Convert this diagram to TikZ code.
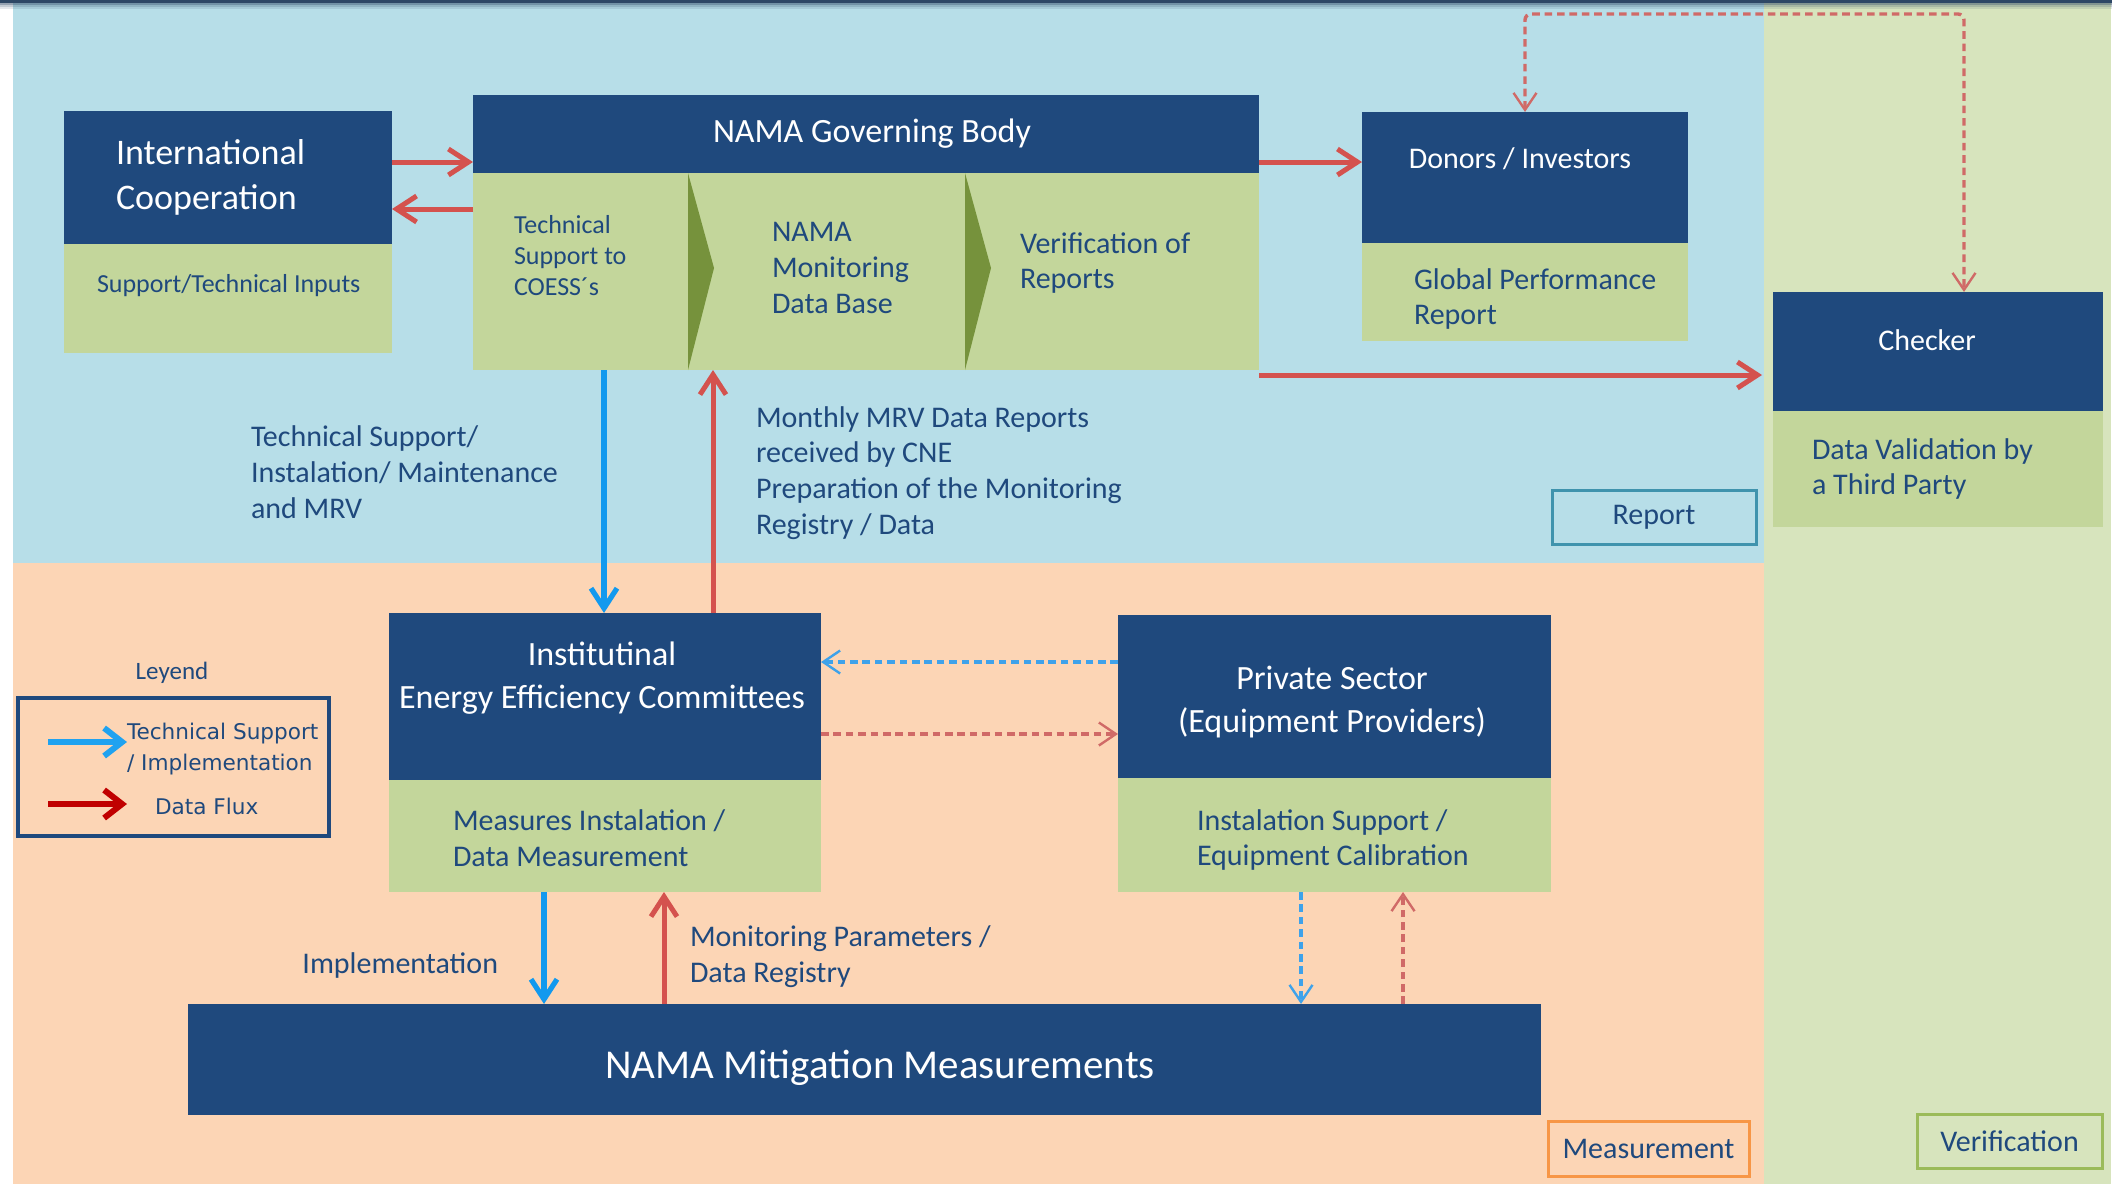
\documentclass[tikz,border=0pt]{standalone}
\usepackage{fontspec}
\setmainfont{Carlito}
\newfontfamily\legendfont{DejaVu Sans}
\usetikzlibrary{arrows.meta,fit}

% palette
\definecolor{navy}{HTML}{1F497D}
\definecolor{leaf}{HTML}{C3D69B}
\definecolor{olive}{HTML}{76923C}
\definecolor{skyzone}{HTML}{B7DEE8}
\definecolor{peachzone}{HTML}{FCD5B5}
\definecolor{greenzone}{HTML}{D7E4BD}
\definecolor{flux}{HTML}{D4524E}
\definecolor{support}{HTML}{1299EE}
\definecolor{fluxdash}{HTML}{D06A67}
\definecolor{supportdash}{HTML}{3EA2EA}
\definecolor{legendred}{HTML}{C00000}
\definecolor{legendblue}{HTML}{1FA2F0}
\definecolor{reportedge}{HTML}{3F93AD}
\definecolor{measedge}{HTML}{F79646}
\definecolor{verifedge}{HTML}{9BBB59}
\definecolor{topline}{HTML}{2E4866}

% type sizes
\newcommand\fsHead{\fontsize{18pt}{22.5pt}\selectfont}
\newcommand\fsTitle{\fontsize{17pt}{21.5pt}\selectfont}
\newcommand\fsBig{\fontsize{20.5pt}{24pt}\selectfont}
\newcommand\fsBody{\fontsize{15pt}{17.9pt}\selectfont}
\newcommand\fsSmall{\fontsize{13pt}{15.5pt}\selectfont}
\newcommand\fsLegend{\legendfont\fontsize{10.8pt}{15.5pt}\selectfont}

\begin{document}
\begin{tikzpicture}[x=0.5pt,y=-0.5pt,
  panel/.style={fill=navy, draw=none, inner sep=0pt, outer sep=0pt},
  leafpanel/.style={fill=leaf, draw=none, inner sep=0pt, outer sep=0pt},
  whitetxt/.style={text=white, inner sep=0pt, outer sep=0pt},
  navytxt/.style={text=navy, inner sep=0pt, outer sep=0pt, align=left, anchor=west},
  tag/.style={inner sep=0pt, outer sep=0pt, text=navy, font=\fsBody, line width=1.5pt},
  fluxarrow/.style={draw=flux, line width=2.5pt, -{Straight Barb[length=10pt,width=13pt]}},
  supportarrow/.style={draw=support, line width=2.6pt, -{Straight Barb[length=10pt,width=13pt]}},
  fluxdashed/.style={draw=fluxdash, line width=1.7pt, dash pattern=on 3.8pt off 2.4pt,
    -{Straight Barb[length=8.5pt,width=11.5pt,line width=1.2pt]}},
  supportdashed/.style={draw=supportdash, line width=1.7pt, dash pattern=on 3.8pt off 2.4pt,
    -{Straight Barb[length=8.5pt,width=11.5pt,line width=1.2pt]}},
  legendarrow/.style={line width=3pt, -{Straight Barb[length=9pt,width=14pt]}}
]
\useasboundingbox (0,0) rectangle (2128,1184);

% ---------- zones ----------
\fill[white] (0,0) rectangle (2128,1184);
\fill[skyzone] (13,0) rectangle (1764,563);
\fill[peachzone] (13,563) rectangle (1764,1184);
\fill[greenzone] (1764,0) rectangle (2111,1184);
\fill[topline] (0,0) rectangle (2112,3);
\fill[topline, opacity=.5] (0,3) rectangle (2112,5);
\fill[topline, opacity=.28] (0,5) rectangle (2112,7);
\fill[topline, opacity=.12] (0,7) rectangle (2112,9);

% ---------- International Cooperation ----------
\node[panel, fit={(64,111) (392,244)}] (ic) {};
\node[leafpanel, fit={(64,244) (392,353)}] (icleaf) {};
\node[whitetxt, align=left, anchor=west, font=\fsHead] (ictxt) at (116,177) {International\\Cooperation};
\node[navytxt, font=\fsSmall] (icsub) at (97,286) {Support/Technical Inputs};

% ---------- NAMA Governing Body ----------
\node[panel, fit={(473,95) (1259,173)}] (gov) {};
\node[leafpanel, fit={(473,173) (1259,370)}] (govleaf) {};
\node[whitetxt, font=\fsTitle] (govtxt) at (872,134) {NAMA Governing Body};
\fill[olive] (688,173) -- (714,268) -- (688,370) -- cycle;
\fill[olive] (965,173) -- (991,268) -- (965,370) -- cycle;
\node[navytxt, font=\fsSmall] (govstep1) at (514,256) {Technical\\Support to\\COESS´s};
\node[navytxt, font=\fsBody] (govstep2) at (772,268) {NAMA\\Monitoring\\Data Base};
\node[navytxt, font=\fsBody] (govstep3) at (1020,263) {Verification of\\Reports};

% ---------- Donors / Investors ----------
\node[panel, fit={(1362,112) (1688,243)}] (donors) {};
\node[leafpanel, fit={(1362,243) (1688,341)}] (donorsleaf) {};
\node[whitetxt, font=\fsBody] (donorstxt) at (1520,159) {Donors / Investors};
\node[navytxt, font=\fsBody] (donorssub) at (1414,299) {Global Performance\\Report};

% ---------- Checker ----------
\node[panel, fit={(1773,292) (2103,411)}] (checker) {};
\node[leafpanel, fit={(1773,411) (2103,527)}] (checkerleaf) {};
\node[whitetxt, font=\fsBody] (checkertxt) at (1927,340) {Checker};
\node[navytxt, font=\fsBody] (checkersub) at (1812,469) {Data Validation by\\a Third Party};

% ---------- Institutional committees ----------
\node[panel, fit={(389,613) (821,780)}] (ieec) {};
\node[leafpanel, fit={(389,780) (821,892)}] (ieecleaf) {};
\node[whitetxt, align=center, font=\fsTitle] (ieectxt) at (602,678) {Institutinal\\Energy Efficiency Committees};
\node[navytxt, font=\fsBody] (ieecsub) at (453,838) {Measures Instalation /\\Data Measurement};

% ---------- Private sector ----------
\node[panel, fit={(1118,615) (1551,778)}] (ps) {};
\node[leafpanel, fit={(1118,778) (1551,892)}] (psleaf) {};
\node[whitetxt, align=center, font=\fsTitle] (pstxt) at (1332,702) {Private Sector\\(Equipment Providers)};
\node[navytxt, font=\fsBody] (pssub) at (1197,840) {Instalation Support /\\Equipment Calibration};

% ---------- Mitigation measurements ----------
\node[panel, fit={(188,1004) (1541,1115)}] (mit) {};
\node[whitetxt, font=\fsBig] (mittxt) at (880,1068) {NAMA Mitigation Measurements};

% ---------- zone tags ----------
\node[tag, draw=reportedge, fill=skyzone, minimum width=102pt, minimum height=27pt] (report) at (1654,517) {Report};
\node[tag, draw=measedge, fill=peachzone, minimum width=100.5pt, minimum height=27.5pt] (measure) at (1648.5,1148.5) {Measurement};
\node[tag, draw=verifedge, fill=greenzone, minimum width=92.5pt, minimum height=27pt] (verif) at (2009.5,1141) {Verification};

% ---------- connector labels ----------
\node[navytxt, font=\fsBody] (lbltech) at (251,472) {Technical Support/\\Instalation/ Maintenance\\and MRV};
\node[navytxt, font=\fsBody] (lblmrv) at (756,473) {Monthly MRV Data Reports\\received by CNE\\Preparation of the Monitoring\\Registry / Data};
\node[navytxt, font=\fsBody, anchor=east] (lblimpl) at (498,965) {Implementation};
\node[navytxt, font=\fsBody] (lblparam) at (690,957) {Monitoring Parameters /\\Data Registry};

% ---------- solid connectors ----------
\draw[fluxarrow] (ic.east |- 0,162) -- (gov.west |- 0,162);
\draw[fluxarrow] (govleaf.west |- 0,209) -- (ic.east |- 0,209);
\draw[fluxarrow] (gov.east |- 0,162) -- (donors.west |- 0,162);
\draw[fluxarrow, shorten >=5.5pt] (govleaf.east |- 0,375) -- (checker.west |- 0,375);
\draw[supportarrow] (govleaf.south -| 604,0) -- (ieec.north -| 604,0);
\draw[fluxarrow] (ieec.north -| 713,0) -- (govleaf.south -| 713,0);
\draw[supportarrow] (ieecleaf.south -| 544,0) -- (mit.north -| 544,0);
\draw[fluxarrow] (mit.north -| 664,0) -- (ieecleaf.south -| 664,0);

% ---------- dashed connectors ----------
\draw[supportdashed] (ps.west |- 0,662) -- (ieec.east |- 0,662);
\draw[fluxdashed] (ieec.east |- 0,734) -- (ps.west |- 0,734);
\draw[supportdashed] (psleaf.south -| 1301,0) -- (mit.north -| 1301,0);
\draw[fluxdashed] (mit.north -| 1403,0) -- (psleaf.south -| 1403,0);
\draw[fluxdashed, {Straight Barb[length=8.5pt,width=11.5pt,line width=1.2pt]}-{Straight Barb[length=8.5pt,width=11.5pt,line width=1.2pt]}, rounded corners=3pt]
  (donors.north) |- (1964,14) -- (checker.north -| 1964,0);

% ---------- legend ----------
\node[text=navy, inner sep=0pt, font=\fontsize{12.5pt}{15pt}\selectfont] (legendtitle) at (172,673) {Leyend};
\node[draw=navy, line width=1.8pt, inner sep=0pt, outer sep=0pt, fit={(18,698) (329,836)}] (legend) {};
\coordinate (lgb1) at (48,742);
\coordinate (lgb2) at (127,742);
\coordinate (lgr1) at (48,804);
\coordinate (lgr2) at (127,804);
\draw[legendarrow, draw=legendblue] (lgb1) -- (lgb2);
\draw[legendarrow, draw=legendred] (lgr1) -- (lgr2);
\node[navytxt, font=\fsLegend] (lgtech) at (127,749) {Technical Support\\/ Implementation};
\node[navytxt, font=\fsLegend] (lgdata) at (155,806) {Data Flux};
\end{tikzpicture}
\end{document}
